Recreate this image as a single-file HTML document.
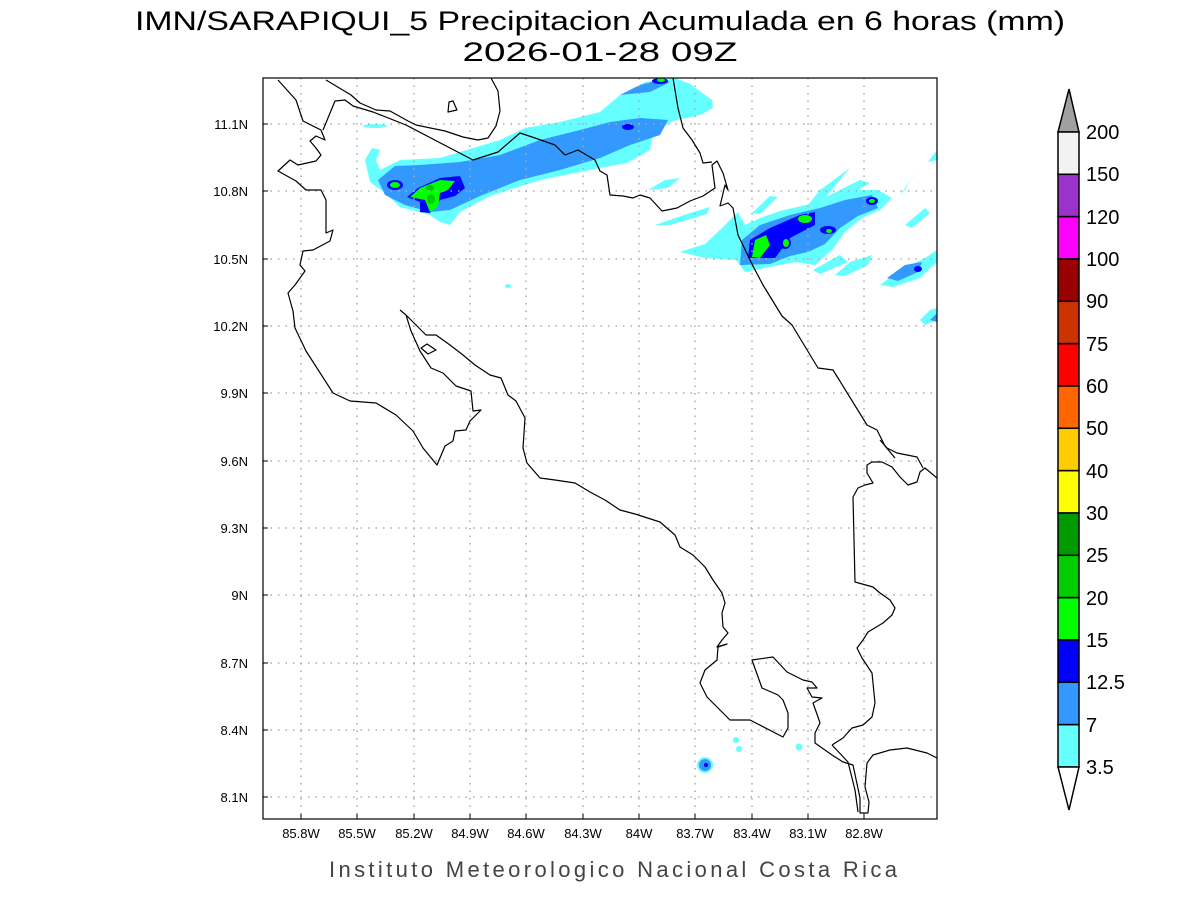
<!DOCTYPE html>
<html><head><meta charset="utf-8"><style>
html,body{margin:0;padding:0;background:#fff;}
svg{display:block;font-family:"Liberation Sans",sans-serif;}
</style></head><body>
<svg width="1200" height="900" viewBox="0 0 1200 900" xmlns="http://www.w3.org/2000/svg">
<rect width="1200" height="900" fill="#fff"/>
<text x="600" y="30" font-size="27" text-anchor="middle" fill="#000" textLength="930" lengthAdjust="spacingAndGlyphs">IMN/SARAPIQUI_5 Precipitacion Acumulada en 6 horas (mm)</text>
<text x="600" y="61" font-size="27" text-anchor="middle" fill="#000" textLength="275" lengthAdjust="spacingAndGlyphs">2026-01-28 09Z</text>

<defs><clipPath id="c"><rect x="263" y="78" width="674" height="741"/></clipPath></defs>
<g clip-path="url(#c)">
<!-- precipitation -->
<g fill="#66ffff">
<polygon points="365,160 372,148 380,150 376,160 380,170 400,160 440,158 500,140 525,128 560,122 600,112 620,95 645,82 675,78 690,84 712,100 713,108 700,115 673,121 653,133 650,150 627,163 600,168 540,180 490,196 460,212 450,225 440,222 430,215 400,207 385,193 370,182"/>
<ellipse cx="375" cy="126" rx="12" ry="2"/>
<polygon points="655,225 690,213 710,207 707,214 670,225"/>
<polygon points="680,252 705,244 722,228 738,212 745,225 760,218 780,211 810,204 830,197 855,190 878,190 892,198 880,210 862,218 845,232 832,250 815,265 795,262 775,266 745,272 736,260 705,258"/>
<polygon points="800,215 820,190 850,168 825,198"/>
<polygon points="648,190 665,180 680,178 668,188"/>
<polygon points="795,214 830,195 860,180 870,183 840,200"/>
<polygon points="880,285 900,270 925,258 937,250 937,262 920,278 893,287"/>
<polygon points="835,275 850,262 872,255 868,265 845,276"/>
<polygon points="900,195 912,178 915,172 905,190"/>
<polygon points="905,225 925,208 930,213 912,228"/>
<polygon points="920,320 930,310 937,308 937,320 925,325"/>
<polygon points="928,162 937,150 937,160"/>
<polygon points="750,235 765,220 775,222 760,240"/>
<polygon points="752,213 770,196 778,197 760,214"/>
<polygon points="813,270 840,255 848,262 820,274"/>
<ellipse cx="508" cy="286" rx="3" ry="2"/>
<circle cx="705" cy="765" r="8"/>
<circle cx="736" cy="740" r="3"/><circle cx="739" cy="749" r="3"/>
<circle cx="799" cy="747" r="3.5"/>
</g>
<g fill="#3399ff">
<polygon points="378,180 395,166 420,165 460,162 500,155 540,140 580,130 610,122 640,118 668,120 660,135 630,145 600,158 560,170 520,180 480,196 450,210 430,212 405,205 385,195"/>
<polygon points="620,95 640,85 660,80 670,82 650,92"/>
<polygon points="740,265 742,240 760,225 790,215 820,208 845,200 872,195 878,208 858,216 840,228 825,244 808,252 790,256 770,264"/>
<polygon points="887,278 905,265 922,262 918,272 898,281"/>
<polygon points="930,320 937,313 937,322"/>
<circle cx="705" cy="765" r="6"/>
</g>
<g fill="#0000ff">
<polygon points="407,197 418,188 440,178 460,176 465,188 455,196 440,200 430,213 420,212 420,202"/>
<ellipse cx="395" cy="185" rx="8" ry="5"/>
<polygon points="748,258 750,240 770,228 800,215 815,212 815,225 790,238 775,258"/>
<ellipse cx="828" cy="230" rx="8" ry="4"/>
<ellipse cx="872" cy="201" rx="6" ry="4"/>
<ellipse cx="785" cy="243" rx="6" ry="6"/>
<ellipse cx="918" cy="269" rx="4" ry="3"/>
<ellipse cx="628" cy="127" rx="6" ry="3"/>
<ellipse cx="660" cy="81" rx="8" ry="3"/>
<circle cx="706" cy="765" r="2"/>
</g>
<g fill="#00ff00">
<polygon points="410,197 420,188 440,180 455,181 448,190 440,193 438,207 430,212 425,200"/>
<ellipse cx="395" cy="185" rx="5" ry="3"/>
<polygon points="752,257 755,240 766,235 770,245 760,258"/>
<ellipse cx="805" cy="219" rx="7" ry="4"/>
<ellipse cx="786" cy="243" rx="3" ry="4"/>
<ellipse cx="829" cy="231" rx="3" ry="2"/>
<ellipse cx="872" cy="201" rx="3" ry="2"/>
<ellipse cx="661" cy="80" rx="4" ry="2"/>
</g>
<g fill="#00cc00"><ellipse cx="430" cy="188" rx="4" ry="3"/><ellipse cx="431" cy="199" rx="4" ry="5"/></g>

<!-- grid -->
<g stroke="#aaa" stroke-width="1.5" stroke-dasharray="1.5,6" fill="none">
<path d="M301,78V819M357,78V819M414,78V819M470,78V819M526,78V819M583,78V819M639,78V819M695,78V819M752,78V819M808,78V819M864,78V819"/>
<path d="M263,124H937M263,191H937M263,259H937M263,326H937M263,393H937M263,461H937M263,528H937M263,595H937M263,663H937M263,730H937M263,797H937"/>
</g>

<!-- coastlines -->
<g stroke="#000" stroke-width="1.2" fill="none" stroke-linejoin="round">
<polyline points="278,80 296,100 303,121 321,130 325,140 316,136 310,141 316,148 321,155 316,161 298,165 290,160 278,171 296,181 306,190 321,190 326,200 326,233 333,230 330,241 313,250 303,251 300,265 305,271 295,285 288,293 293,311 295,328 306,351 333,393 350,401 376,403 396,415 413,431 423,448 437,465 445,446 453,441 455,431 466,430 470,421 481,410 473,411 471,391 456,386 443,373 431,368 420,351 411,331 406,315 400,310"/>
<polyline points="406,315 416,325 426,335 436,335 450,345 463,355 475,365 490,375 501,378 508,395 516,401 525,418 523,448 527,463 540,478 555,480 575,483 590,492 605,500 620,510 635,514 660,522 675,535 680,547 693,555 705,567 713,580 722,593 725,603 722,613 723,627 728,633 722,640 717,647 727,644 718,647 717,660 705,670 700,683 707,697 723,713 730,720 750,720 783,737 788,728 788,713 783,700 778,695 762,688 752,660 773,657 787,672 803,680 812,682 817,688 807,688 812,697 822,698 813,703 818,717 820,723 815,733 815,743 832,755 843,762 853,765 860,798 860,813 868,813 869,802 865,787 867,763 873,755 890,750 907,748 927,753 937,758"/>
<polyline points="832,745 843,738 852,728 863,725 872,717 875,703 872,673 862,658 857,648 863,640 868,632 883,623 892,615 895,608 890,600 880,593 873,587 855,582 853,497 858,488 865,485 873,483 867,473 867,465 872,462 882,462 892,467 900,477 908,485 917,482 920,472 925,468 937,478"/>
<polyline points="880,440 887,448 897,453 917,457 923,468"/>
<polyline points="832,745 848,762 855,790 858,812"/>
<polyline points="326,80 351,95 360,103 376,110 390,111 408,121 416,125 445,131 463,137 478,140 488,138 496,126 500,111 498,91 491,78"/>
<polyline points="323,130 335,101 345,100 353,106 373,112 406,125 473,160 498,152 520,133 535,138 555,145 565,155 578,150 595,160 600,171 607,175 610,195 623,196 633,198 640,195 650,198 662,211 677,208 690,201 703,196 715,188 712,165 717,161 723,173 728,190 725,185 720,206 728,203 733,208 738,235 753,266 763,285 782,316 792,325 818,368 833,370 838,378 867,425 877,430 885,446 895,458"/>
<polyline points="673,78 678,108 683,128 692,140 700,153 703,163 712,162"/>
<polygon points="449,102 453,101 457,110 448,112"/>
<polygon points="421,348 427,344 436,350 428,354"/>
</g>
</g>
<rect x="263" y="78" width="674" height="741" fill="none" stroke="#000" stroke-width="1.2"/>

<!-- ticks labels -->
<g font-size="13" text-anchor="middle" fill="#000">
<text x="301" y="838">85.8W</text><text x="357" y="838">85.5W</text><text x="414" y="838">85.2W</text><text x="470" y="838">84.9W</text><text x="526" y="838">84.6W</text><text x="583" y="838">84.3W</text><text x="639" y="838">84W</text><text x="695" y="838">83.7W</text><text x="752" y="838">83.4W</text><text x="808" y="838">83.1W</text><text x="864" y="838">82.8W</text>
</g>
<g font-size="13" text-anchor="end" fill="#000">
<text x="248" y="129">11.1N</text><text x="248" y="196">10.8N</text><text x="248" y="264">10.5N</text><text x="248" y="331">10.2N</text><text x="248" y="398">9.9N</text><text x="248" y="466">9.6N</text><text x="248" y="533">9.3N</text><text x="248" y="600">9N</text><text x="248" y="668">8.7N</text><text x="248" y="735">8.4N</text><text x="248" y="802">8.1N</text>
</g>
<g stroke="#000" stroke-width="1">
<path d="M301,819v-5M357,819v-5M414,819v-5M470,819v-5M526,819v-5M583,819v-5M639,819v-5M695,819v-5M752,819v-5M808,819v-5M864,819v-5"/>
<path d="M263,124h5M263,191h5M263,259h5M263,326h5M263,393h5M263,461h5M263,528h5M263,595h5M263,663h5M263,730h5M263,797h5"/>
</g>
<text x="613" y="877" font-size="22" text-anchor="middle" fill="#444" textLength="568" lengthAdjust="spacing">Instituto Meteorologico Nacional Costa Rica</text>

<!-- colorbar -->
<g stroke="#000" stroke-width="1.5">
<polygon points="1058,132 1069,89 1079,132" fill="#a0a0a0"/>
<rect x="1058" y="132" width="21" height="42.3" fill="#f2f2f2"/>
<rect x="1058" y="174.3" width="21" height="42.3" fill="#9933cc"/>
<rect x="1058" y="216.7" width="21" height="42.3" fill="#ff00ff"/>
<rect x="1058" y="259" width="21" height="42.3" fill="#990000"/>
<rect x="1058" y="301.3" width="21" height="42.3" fill="#cc3300"/>
<rect x="1058" y="343.7" width="21" height="42.3" fill="#ff0000"/>
<rect x="1058" y="386" width="21" height="42.3" fill="#ff6600"/>
<rect x="1058" y="428.3" width="21" height="42.3" fill="#ffcc00"/>
<rect x="1058" y="470.7" width="21" height="42.3" fill="#ffff00"/>
<rect x="1058" y="513" width="21" height="42.3" fill="#009900"/>
<rect x="1058" y="555.3" width="21" height="42.3" fill="#00cc00"/>
<rect x="1058" y="597.7" width="21" height="42.3" fill="#00ff00"/>
<rect x="1058" y="640" width="21" height="42.3" fill="#0000ff"/>
<rect x="1058" y="682.3" width="21" height="42.3" fill="#3399ff"/>
<rect x="1058" y="724.7" width="21" height="42.3" fill="#66ffff"/>
<polygon points="1058,767 1069,810 1079,767" fill="#fff"/>
</g>
<g font-size="20" fill="#000">
<text x="1086" y="139">200</text><text x="1086" y="181">150</text><text x="1086" y="224">120</text><text x="1086" y="266">100</text><text x="1086" y="308">90</text><text x="1086" y="351">75</text><text x="1086" y="393">60</text><text x="1086" y="435">50</text><text x="1086" y="478">40</text><text x="1086" y="520">30</text><text x="1086" y="562">25</text><text x="1086" y="605">20</text><text x="1086" y="647">15</text><text x="1086" y="689">12.5</text><text x="1086" y="732">7</text><text x="1086" y="774">3.5</text>
</g>
</svg>
</body></html>
